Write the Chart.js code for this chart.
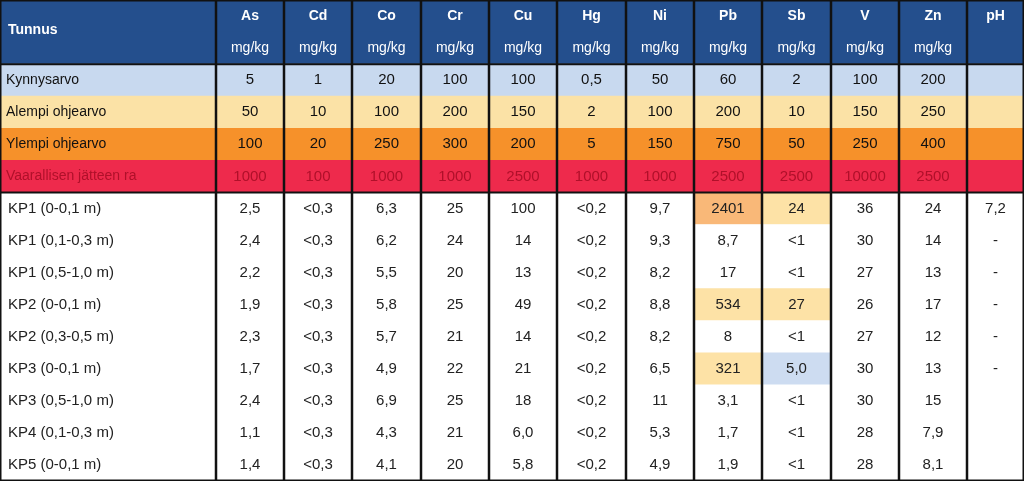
<!DOCTYPE html>
<html><head><meta charset="utf-8">
<script src="https://cdn.jsdelivr.net/npm/chart.js@4/dist/chart.umd.min.js"></script>
<style>html,body{margin:0;padding:0;background:#fff}#w{width:1024px;height:481px}</style>
</head><body><div id="w"><canvas id="c"></canvas></div>
<script>
const elements = ["As","Cd","Co","Cr","Cu","Hg","Ni","Pb","Sb","V","Zn","pH"];
const units = ["mg/kg","mg/kg","mg/kg","mg/kg","mg/kg","mg/kg","mg/kg","mg/kg","mg/kg","mg/kg","mg/kg",""];
const thresholdNames = ["Kynnysarvo","Alempi ohjearvo","Ylempi ohjearvo","Vaarallisen jätteen ra"];
const kynnysarvo = ["5","1","20","100","100","0,5","50","60","2","100","200",""];
const alempi = ["50","10","100","200","150","2","100","200","10","150","250",""];
const ylempi = ["100","20","250","300","200","5","150","750","50","250","400",""];
const vaarallinen = ["1000","100","1000","1000","2500","1000","1000","2500","2500","10000","2500",""];
const samples = ["KP1 (0-0,1 m)","KP1 (0,1-0,3 m)","KP1 (0,5-1,0 m)","KP2 (0-0,1 m)","KP2 (0,3-0,5 m)","KP3 (0-0,1 m)","KP3 (0,5-1,0 m)","KP4 (0,1-0,3 m)","KP5 (0-0,1 m)"];
const sampleValues = [
 ["2,5","<0,3","6,3","25","100","<0,2","9,7","2401","24","36","24","7,2"],
 ["2,4","<0,3","6,2","24","14","<0,2","9,3","8,7","<1","30","14","-"],
 ["2,2","<0,3","5,5","20","13","<0,2","8,2","17","<1","27","13","-"],
 ["1,9","<0,3","5,8","25","49","<0,2","8,8","534","27","26","17","-"],
 ["2,3","<0,3","5,7","21","14","<0,2","8,2","8","<1","27","12","-"],
 ["1,7","<0,3","4,9","22","21","<0,2","6,5","321","5,0","30","13","-"],
 ["2,4","<0,3","6,9","25","18","<0,2","11","3,1","<1","30","15",""],
 ["1,1","<0,3","4,3","21","6,0","<0,2","5,3","1,7","<1","28","7,9",""],
 ["1,4","<0,3","4,1","20","5,8","<0,2","4,9","1,9","<1","28","8,1",""]
];
const sampleLevels = [
 [0,0,0,0,0,0,0,3,2,0,0,0],
 [0,0,0,0,0,0,0,0,0,0,0,0],
 [0,0,0,0,0,0,0,0,0,0,0,0],
 [0,0,0,0,0,0,0,2,2,0,0,0],
 [0,0,0,0,0,0,0,0,0,0,0,0],
 [0,0,0,0,0,0,0,2,1,0,0,0],
 [0,0,0,0,0,0,0,0,0,0,0,0],
 [0,0,0,0,0,0,0,0,0,0,0,0],
 [0,0,0,0,0,0,0,0,0,0,0,0]
];
const edges = [0,216,284,352,421,489,557,626,694,762,831,899,967,1024];
const HDR = "#244f8d", levelColors = ["#ffffff","#c8d9ef","#fbe2a6","#f6912a","#ee2a4c"];
const hlColors = ["#ffffff","#cddcf1","#fde2a6","#f9b878"];
const rows = ["h1","h2",...thresholdNames,...samples];
const rowColor = r => r<2?HDR:(r<6?levelColors[r-1]:"#ffffff");
const datasets = [];
for (let c=0;c<13;c++){
  datasets.push({
    data: rows.map((_,r)=>[edges[c],edges[c+1]]),
    backgroundColor: rows.map((_,r)=>{
      if (r>=6 && c>0) return hlColors[sampleLevels[r-6][c-1]];
      return rowColor(r);
    }),
    borderWidth:0, barPercentage:1, categoryPercentage:1, grouped:false
  });
}
const textPlugin = {id:"txt", afterDatasetsDraw(ch){
  const ctx=ch.ctx, xs=ch.scales.x, ys=ch.scales.y;
  const rowH = ys.getPixelForValue(1)-ys.getPixelForValue(0);
  ctx.strokeStyle="#111"; ctx.lineWidth=2.5;
  for (let c=1;c<13;c++){const x=xs.getPixelForValue(edges[c]);ctx.beginPath();ctx.moveTo(x,0);ctx.lineTo(x,481);ctx.stroke();}
  ctx.lineWidth=2;
  [ys.getPixelForValue(1)+rowH/2, ys.getPixelForValue(5)+rowH/2].forEach(y=>{ctx.beginPath();ctx.moveTo(0,y);ctx.lineTo(1024,y);ctx.stroke();});
  ctx.lineWidth=1.5; ctx.strokeRect(0.75,0.75,1022.5,479.5);
  ctx.textBaseline="middle";
  const cx=c=>(xs.getPixelForValue(edges[c])+xs.getPixelForValue(edges[c+1]))/2;
  ctx.fillStyle="#fff"; ctx.font="bold 14px 'Liberation Sans'"; ctx.textAlign="left";
  ctx.fillText("Tunnus",8,(ys.getPixelForValue(0)+ys.getPixelForValue(1))/2-2);
  ctx.textAlign="center";
  elements.forEach((e,i)=>{ctx.font="bold 14px 'Liberation Sans'";ctx.fillText(e,cx(i+1),ys.getPixelForValue(0));ctx.font="14px 'Liberation Sans'";ctx.fillText(units[i],cx(i+1),ys.getPixelForValue(1));});
  const thr=[kynnysarvo,alempi,ylempi,vaarallinen];
  thresholdNames.forEach((n,t)=>{
    const y=ys.getPixelForValue(2+t);
    ctx.fillStyle=t===3?"#b0102a":"#111"; ctx.font="14px 'Liberation Sans'"; ctx.textAlign="left"; ctx.fillText(n,6,y);
    ctx.textAlign="center"; ctx.font="15px 'Liberation Sans'";
    thr[t].forEach((v,i)=>ctx.fillText(v,cx(i+1),y));
  });
  ctx.fillStyle="#222";
  samples.forEach((s,r)=>{
    const y=ys.getPixelForValue(6+r);
    ctx.font="15px 'Liberation Sans'"; ctx.textAlign="left"; ctx.fillText(s,8,y);
    ctx.textAlign="center";
    sampleValues[r].forEach((v,i)=>ctx.fillText(v,cx(i+1),y));
  });
}};
new Chart(document.getElementById("c"),{type:"bar",
 data:{labels:rows,datasets},
 options:{indexAxis:"y",responsive:true,maintainAspectRatio:false,animation:false,
  layout:{padding:0},
  plugins:{legend:{display:false},tooltip:{enabled:false}},
  scales:{x:{type:"linear",min:0,max:1024,display:false},
          y:{type:"category",display:false,offset:true}}},
 plugins:[textPlugin]});
</script></body></html>
